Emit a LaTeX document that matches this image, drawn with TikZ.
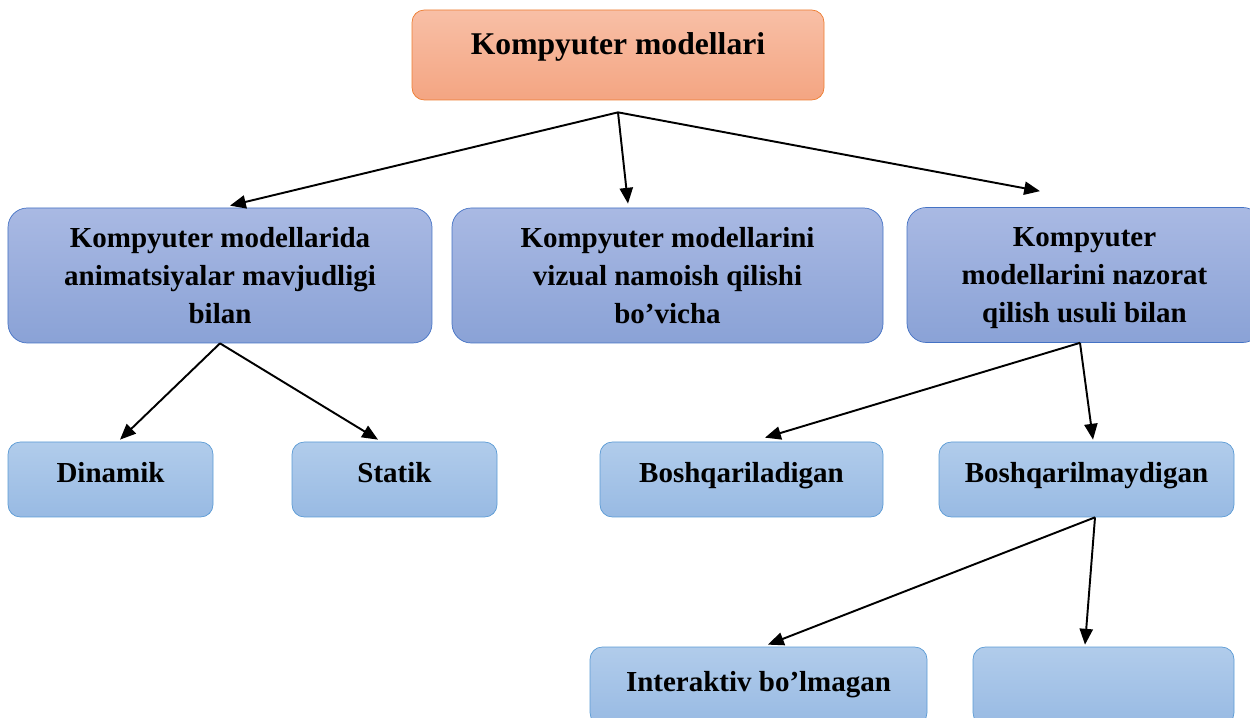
\documentclass[tikz,border=0pt]{standalone}
\usepackage{fontspec}
\setmainfont{Liberation Serif}
\usepackage{tikz}
\usetikzlibrary{arrows.meta}
\definecolor{peachtop}{HTML}{F8BFA6}
\definecolor{peachbot}{HTML}{F4A582}
\definecolor{peachline}{HTML}{ED7D31}
\definecolor{bluetop}{HTML}{A9B9E3}
\definecolor{bluebot}{HTML}{8AA2D6}
\definecolor{blueline}{HTML}{4472C4}
\definecolor{skytop}{HTML}{B1CCEB}
\definecolor{skybot}{HTML}{98BAE3}
\definecolor{skyline}{HTML}{5B9BD5}
\tikzset{rootbox/.style={draw=peachline,rounded corners=7pt,top color=peachtop,bottom color=peachbot,align=center,minimum width=8.24cm,minimum height=1.8cm,text depth=0.45cm,font=\fontsize{18}{22}\selectfont\bfseries},
catbox/.style={draw=blueline,rounded corners=11pt,top color=bluetop,bottom color=bluebot,align=center,minimum height=2.7cm,text depth=-0.36cm,font=\fontsize{16.5}{21.5}\selectfont\bfseries},
leafbox/.style={draw=skyline,rounded corners=7pt,top color=skytop,bottom color=skybot,align=center,minimum height=1.5cm,text height=0.42cm,text depth=0.28cm,font=\fontsize{16.5}{20}\selectfont\bfseries},
arr/.style={-{Triangle[length=9pt,width=7.5pt]},line width=1.1pt,black}}

\begin{document}
\begin{tikzpicture}
\useasboundingbox (0,0) rectangle (25,-14.36);
\clip (0,0) rectangle (25,-14.36);
\node[rootbox] (root) at (12.36,-1.10) {Kompyuter modellari};
\node[catbox,minimum width=8.48cm] (anim) at (4.40,-5.51) {Kompyuter modellarida\\animatsiyalar mavjudligi\\bilan};
\node[catbox,minimum width=8.62cm] (vizual) at (13.35,-5.51) {Kompyuter modellarini\\vizual namoish qilishi\\bo’vicha};
\node[catbox,minimum width=7.10cm] (nazorat) at (21.69,-5.50) {Kompyuter\\modellarini nazorat\\qilish usuli bilan};
\node[leafbox,minimum width=4.10cm] (dinamik) at (2.21,-9.59) {Dinamik};
\node[leafbox,minimum width=4.10cm] (statik) at (7.89,-9.59) {Statik};
\node[leafbox,minimum width=5.66cm] (boshq) at (14.83,-9.59) {Boshqariladigan};
\node[leafbox,minimum width=5.90cm] (boshqm) at (21.73,-9.59) {Boshqarilmaydigan};
\node[leafbox,minimum width=6.74cm,minimum height=1.56cm,text depth=0.2cm] (inter) at (15.17,-13.72) {Interaktiv bo’lmagan};
\node[leafbox,minimum width=5.22cm,minimum height=1.56cm] (bosh) at (22.07,-13.72) {};
% top level split
\coordinate (hub) at ([yshift=-0.24cm]root.south);
\draw[arr] (hub) -- ([xshift=0.2cm,yshift=0.04cm]anim.north);
\draw[arr] (hub) -- ([xshift=-0.79cm,yshift=0.08cm]vizual.north);
\draw[arr] (hub) -- ([shift={(-0.89cm,0.32cm)}]nazorat.north);
% second level
\draw[arr] (anim.south) -- ([xshift=0.19cm,yshift=0.04cm]dinamik.north);
\draw[arr] (anim.south) -- ([xshift=-0.33cm,yshift=0.04cm]statik.north);
\draw[arr] ([xshift=-0.09cm]nazorat.south) -- ([xshift=0.47cm,yshift=0.08cm]boshq.north);
\draw[arr] ([xshift=-0.09cm]nazorat.south) -- ([xshift=0.13cm,yshift=0.04cm]boshqm.north);
\draw[arr] ([xshift=0.17cm]boshqm.south) -- ([xshift=0.19cm,yshift=0.04cm]inter.north);
\draw[arr] ([xshift=0.17cm]boshqm.south) -- ([xshift=-0.37cm,yshift=0.04cm]bosh.north);
\end{tikzpicture}
\end{document}
